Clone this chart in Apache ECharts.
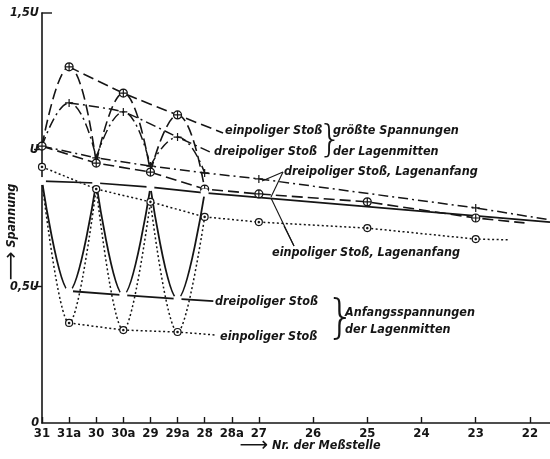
<!DOCTYPE html>
<html><head><meta charset="utf-8">
<script src="https://cdn.jsdelivr.net/npm/echarts@6/dist/echarts.min.js"></script>
<style>html,body{margin:0;padding:0;background:#fff}#c{width:550px;height:459px}</style>
</head><body><div id="c"></div>
<script>
// ---- station axis ----
const stationNames = ['31','31a','30','30a','29','29a','28','28a','27','26','25','24','23','22'];
const stationPos   = [0,0.5,1,1.5,2,2.5,3,3.5,4,5,6,7,8,9];
const yTickValues  = [0,0.5,1,1.5];
const yTickLabels  = ['0','0,5U','U','1,5U'];

// ---- größte Spannungen der Lagenmitten ----
const einGroessteOsc = [
  [['31',1.013],['31a',1.303],['30',0.951]],
  [['30',0.951],['30a',1.207],['29',0.918]],
  [['29',0.918],['29a',1.127],['28',0.856]]
];
const einGroessteEnv = [['31a',1.303],['30a',1.207],['29a',1.127],[3.34,1.061]];
const dreiGroessteOsc = [
  [['31',1.013],['31a',1.171],['30',0.970]],
  [['30',0.970],['30a',1.138],['29',0.940]],
  [['29',0.940],['29a',1.046],['28',0.915]]
];
const dreiGroessteEnv = [['31a',1.171],['30a',1.138],['29a',1.046],[3.14,0.988]];

// ---- Lagenanfang ----
const dreiAnfangA = [['31',1.013],['30',0.970],['29',0.940],['28',0.915],['27',0.893],['23',0.787],[9.37,0.743]];
const einAnfangA  = [['31',1.013],['30',0.951],['29',0.918],['28',0.856],['27',0.838],['25',0.809],['23',0.750],[8.9,0.732]];
const dreiAnfangB = [['31',0.885],['30',0.878],['29',0.863],['28',0.842],[9.37,0.735]];
const einAnfangB  = [['31',0.937],['30',0.856],['29',0.809],['28',0.754],['27',0.735],['25',0.713],['23',0.673],[8.63,0.670]];

// ---- Anfangsspannungen der Lagenmitten ----
const dreiAnfangsOsc = [
  [['31',0.885],['31a',0.483],['30',0.878]],
  [['30',0.878],['30a',0.468],['29',0.863]],
  [['29',0.863],['29a',0.454],['28',0.842]]
];
const dreiAnfangsEnv = [['31a',0.483],['30a',0.468],['29a',0.454],[3.16,0.446]];
const einAnfangsOsc = [
  [['31',0.885],['31a',0.366],['30',0.860]],
  [['30',0.860],['30a',0.340],['29',0.809]],
  [['29',0.809],['29a',0.333],['28',0.754]]
];
const einAnfangsEnv = [['31a',0.366],['30a',0.340],['29a',0.333],[3.19,0.322]];

// ---- helpers ----
function px(s){ return typeof s === 'number' ? s : stationPos[stationNames.indexOf(s)]; }
const INK = '#151515';
const DASH = [11,5], DASHDOT = [10,4,2,4], DOT = [2,2.5];
const SYM_PLUS = 'path://M0,5 L10,5 M5,0 L5,10';
const SYM_CPLUS = 'path://M0,5 A5,5 0 1,1 10,5 A5,5 0 1,1 0,5 Z M0,5 L10,5 M5,0 L5,10';
const SYM_CDOT = 'path://M0,5 A5,5 0 1,1 10,5 A5,5 0 1,1 0,5 Z M4,5 A1,1 0 1,1 6,5 A1,1 0 1,1 4,5 Z';

function mkData(arr, symbol, size){
  return arr.map((p,i)=>{
    const o = {value:[px(p[0]), p[1]]};
    if (!symbol || (i === arr.length-1 && typeof p[0]==='number')) o.symbol = 'none';
    else { o.symbol = symbol; o.symbolSize = size; }
    return o;
  });
}
function line(arr, type, width, symbol, size, smooth){
  return {
    type:'line', data: mkData(arr, symbol, size), smooth: smooth,
    showSymbol: true, silent: true, animation:false, z: symbol ? 3 : 2,
    lineStyle:{color:INK, width:width, type:type, cap:'butt'},
    itemStyle:{color:'#fff', borderColor:INK, borderWidth:1.2}
  };
}
const series = [];
einGroessteOsc.forEach(a=>series.push(line(a, DASH, 1.6, null, 0, 0.5)));
dreiGroessteOsc.forEach(a=>series.push(line(a, DASHDOT, 1.5, null, 0, 0.5)));
dreiAnfangsOsc.forEach(a=>series.push(line(a, 'solid', 1.8, null, 0, 0.38)));
einAnfangsOsc.forEach(a=>series.push(line(a, DOT, 1.5, null, 0, 0.38)));
series.push(line(einGroessteEnv, DASH, 1.6, SYM_CPLUS, 8, 0.2));
series.push(line(dreiGroessteEnv, DASHDOT, 1.5, SYM_PLUS, 8, 0.2));
series.push(line(dreiAnfangA, DASHDOT, 1.5, SYM_PLUS, 8, 0));
series.push(line(einAnfangA, DASH, 1.6, SYM_CPLUS, 8, 0));
series.push(line(dreiAnfangB, 'solid', 1.6, 'emptyCircle', 6, 0));
series.push(line(einAnfangB, DOT, 1.5, SYM_CDOT, 7, 0));
series.push(line(dreiAnfangsEnv, 'solid', 1.8, 'emptyCircle', 6, 0));
series.push(line(einAnfangsEnv, DOT, 1.5, SYM_CDOT, 7, 0));

const FONT = "'DejaVu Sans Condensed','Liberation Sans Narrow','DejaVu Sans',sans-serif";
function txt(x, y, s, extra){
  return Object.assign({type:'text', x:x, y:y, silent:true, z:10,
    style:{text:s, fill:INK, font:"italic 600 12.5px " + FONT, textVerticalAlign:'middle'}}, extra||{});
}
function brace(x, y, size){
  return {type:'text', x:x, y:y, silent:true, z:10,
    style:{text:'}', fill:INK, font: "300 " + size + "px 'DejaVu Sans',sans-serif", textVerticalAlign:'middle'}};
}
function ptr(x1,y1,x2,y2, w){
  return {type:'line', silent:true, z:10, shape:{x1:x1,y1:y1,x2:x2,y2:y2}, style:{stroke:INK, lineWidth:w||1.1}};
}

const chart = echarts.init(document.getElementById('c'), null, {renderer:'canvas'});
chart.setOption({
  backgroundColor:'#fff',
  animation:false,
  grid:{left:42, right:0, top:13, bottom:36, outerBoundsMode:'none'},
  xAxis:{
    type:'value', min:0, max:9.37,
    name:'{a|⟶} Nr. der Meßstelle', nameLocation:'middle', nameGap:13, nameMoveOverlap:false,
    nameTextStyle:{color:INK, fontFamily:FONT, fontStyle:'italic', fontWeight:600, fontSize:12.5, padding:[0,0,0,28],
      rich:{a:{fontSize:20, fontStyle:'normal', fontWeight:400, fontFamily:"'DejaVu Sans',sans-serif", color:INK}}},
    axisLine:{lineStyle:{color:INK, width:1.6}},
    axisTick:{inside:true, length:6, customValues: stationPos, lineStyle:{color:INK, width:1.4}},
    axisLabel:{customValues: stationPos, formatter: v => { const i = stationPos.indexOf(v); return i>=0 ? stationNames[i] : ''; },
      color:INK, fontFamily:FONT, fontWeight:600, fontSize:13, margin:4, showMinLabel:true, showMaxLabel:true, hideOverlap:false},
    splitLine:{show:false}
  },
  yAxis:{
    type:'value', min:0, max:1.5,
    name:'{a|⟶} Spannung', nameLocation:'middle', nameGap:20, nameRotate:90, nameMoveOverlap:false,
    nameTextStyle:{color:INK, fontFamily:FONT, fontStyle:'italic', fontWeight:600, fontSize:12.5, padding:[0,28,0,0],
      rich:{a:{fontSize:20, fontStyle:'normal', fontWeight:400, fontFamily:"'DejaVu Sans',sans-serif", color:INK}}},
    axisLine:{show:true, lineStyle:{color:INK, width:1.6}},
    axisTick:{show:true, inside:false, length:8, customValues:[0.5,1], lineStyle:{color:INK, width:1.4}},
    axisLabel:{customValues: yTickValues, formatter: v => yTickLabels[yTickValues.indexOf(v)] || '',
      color:INK, fontFamily:FONT, fontStyle:'italic', fontWeight:600, fontSize:12.5, margin:3, showMinLabel:true, showMaxLabel:true},
    splitLine:{show:false}
  },
  series: series,
  graphic:[
    ptr(41.5,13,52,13,1.4),
    txt(225,131,'einpoliger Stoß'),
    txt(214,152,'dreipoliger Stoß'),
    brace(318,141,38),
    txt(333,131,'größte Spannungen'),
    txt(333,152,'der Lagenmitten'),
    txt(284,172,'dreipoliger Stoß, Lagenanfang'),
    ptr(283,172,262,181), ptr(283,172,271,197),
    txt(272,253,'einpoliger Stoß, Lagenanfang'),
    ptr(294,246,271,198), ptr(294,246,284,226),
    txt(215,302,'dreipoliger Stoß'),
    txt(220,337,'einpoliger Stoß'),
    brace(326,320,46),
    txt(345,313,'Anfangsspannungen'),
    txt(345,330,'der Lagenmitten')
  ]
});
</script></body></html>
